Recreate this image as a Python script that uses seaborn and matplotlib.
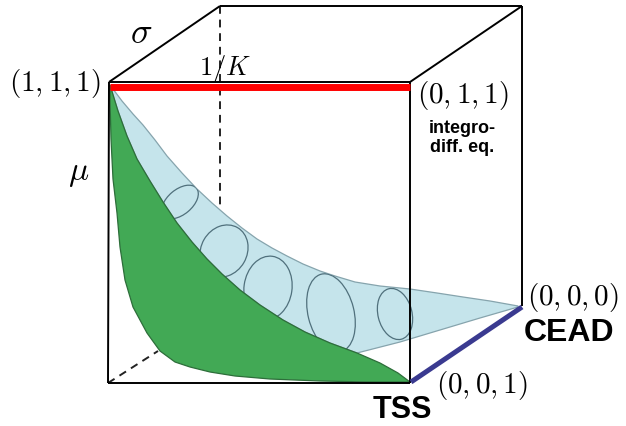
import matplotlib
matplotlib.use("Agg")
import matplotlib.pyplot as plt
from matplotlib.patches import Polygon, Ellipse
import seaborn as sns

# cube corners (image pixel coordinates)
front_tl = (109, 83)   # (1,1,1)
front_tr = (410, 83)   # (0,1,1)
front_br = (410, 384)  # (0,0,1)
front_bl = (108, 384)
back_tl = (220, 7)
back_tr = (522, 7)
back_br = (522, 307)   # (0,0,0)

# light blue tube: upper rim, then the lower rim back to the start
blue_upper = [(110, 86), (122, 102), (133, 115), (143, 126), (155, 141), (167, 157),
              (182, 174), (197, 190), (212, 204), (227, 217), (242, 229), (257, 240),
              (272, 249), (287, 257), (303, 265), (320, 272), (335, 277), (355, 283),
              (380, 287), (410, 290), (437, 294), (463, 298), (490, 302), (518, 307)]
blue_lower = [(518, 308), (480, 319), (440, 331), (400, 343), (357, 354)]

# green sheet: top edge (shared with the tube) and bottom/left edge
green_top = [(110, 86), (118, 112), (127, 137), (137, 160), (150, 182), (163, 203),
             (177, 224), (192, 243), (207, 260), (222, 275), (240, 291), (260, 306),
             (283, 321), (305, 333), (330, 344), (357, 354), (380, 364), (398, 374),
             (410, 383)]
green_bottom = [(410, 383), (370, 383), (320, 382), (270, 380), (235, 377), (210, 373),
                (190, 368), (175, 363), (160, 352), (147, 334), (133, 308), (125, 281),
                (120, 248), (117, 214), (113, 180), (111, 140), (110, 100)]

# cross-section ellipses on the tube: centre x, centre y, minor, major, tilt
ell_x = [180, 224, 268, 331, 395]
ell_y = [203, 252, 289, 314, 315]
ell_w = [25, 46, 48, 46, 34]
ell_h = [43, 54, 64, 80, 52]
ell_tilt = [50, 30, 8, -14, -14]

sns.set_theme(style="white")
plt.rcParams["mathtext.fontset"] = "cm"
plt.rcParams["text.color"] = "black"
plt.rcParams["font.family"] = ["Liberation Sans", "DejaVu Sans"]

fig = plt.figure(figsize=(6.26, 4.27), dpi=100)
ax = fig.add_axes([0, 0, 1, 1])
ax.set_xlim(0, 626)
ax.set_ylim(427, 0)
ax.axis("off")


def edge(p, q, **kw):
    sns.lineplot(x=[p[0], q[0]], y=[p[1], q[1]], ax=ax, sort=False,
                 estimator=None, legend=False, solid_capstyle="butt", **kw)


# hidden edges (dashed)
edge(back_tl, (220, 211), color="#222222", lw=1.4, dashes=(4, 3))
edge(front_bl, (158, 352), color="#222222", lw=1.4, dashes=(4, 3))

# surfaces
tube = Polygon(blue_upper + blue_lower + green_top[::-1][4:], closed=True,
               facecolor="#c5e4eb", edgecolor="#86a4ad", lw=0.9, zorder=3)
ax.add_patch(tube)
sheet = Polygon(green_top + green_bottom, closed=True,
                facecolor="#42a955", edgecolor="#2d6e3a", lw=0.9, zorder=4)
ax.add_patch(sheet)

for x, y, w, h, a in zip(ell_x, ell_y, ell_w, ell_h, ell_tilt):
    e = Ellipse((x, y), w, h, angle=a, facecolor="none",
                edgecolor="#50707c", lw=0.9, zorder=3.5)
    ax.add_patch(e)
    e.set_clip_path(tube)

# visible cube edges
for p, q in [(front_tl, front_tr), (front_tl, front_bl), (front_bl, front_br),
             (front_tr, front_br), (back_tl, back_tr), (back_tr, back_br),
             (front_tl, back_tl), (front_tr, back_tr)]:
    edge(p, q, color="black", lw=1.4, zorder=5)

# highlighted edges
edge((110, 88), (410, 88), color="#ff0000", lw=5, zorder=6)
edge((411, 383), (522, 308), color="#3a3a90", lw=3.6, zorder=6)

# labels
ax.text(101, 83, r"$(1,1,1)$", fontsize=21, ha="right", va="center")
ax.text(417, 96, r"$(0,1,1)$", fontsize=21, ha="left", va="center")
ax.text(527, 298, r"$(0,0,0)$", fontsize=21, ha="left", va="center")
ax.text(436, 386, r"$(0,0,1)$", fontsize=21, ha="left", va="center")
ax.text(141, 34, r"$\sigma$", fontsize=26, ha="center", va="center")
ax.text(225, 69, r"$1/K$", fontsize=19, ha="center", va="center")
ax.text(79, 174, r"$\mu$", fontsize=24, ha="center", va="center")
ax.text(462, 138, "integro-\ndiff. eq.", fontsize=13, fontweight="bold",
        ha="center", va="center", linespacing=1.1)
ax.text(524, 333, "CEAD", fontsize=23, fontweight="bold", ha="left", va="center")
ax.text(402, 410, "TSS", fontsize=22, fontweight="bold", ha="center", va="center")

fig.savefig("out.png", dpi=100)
